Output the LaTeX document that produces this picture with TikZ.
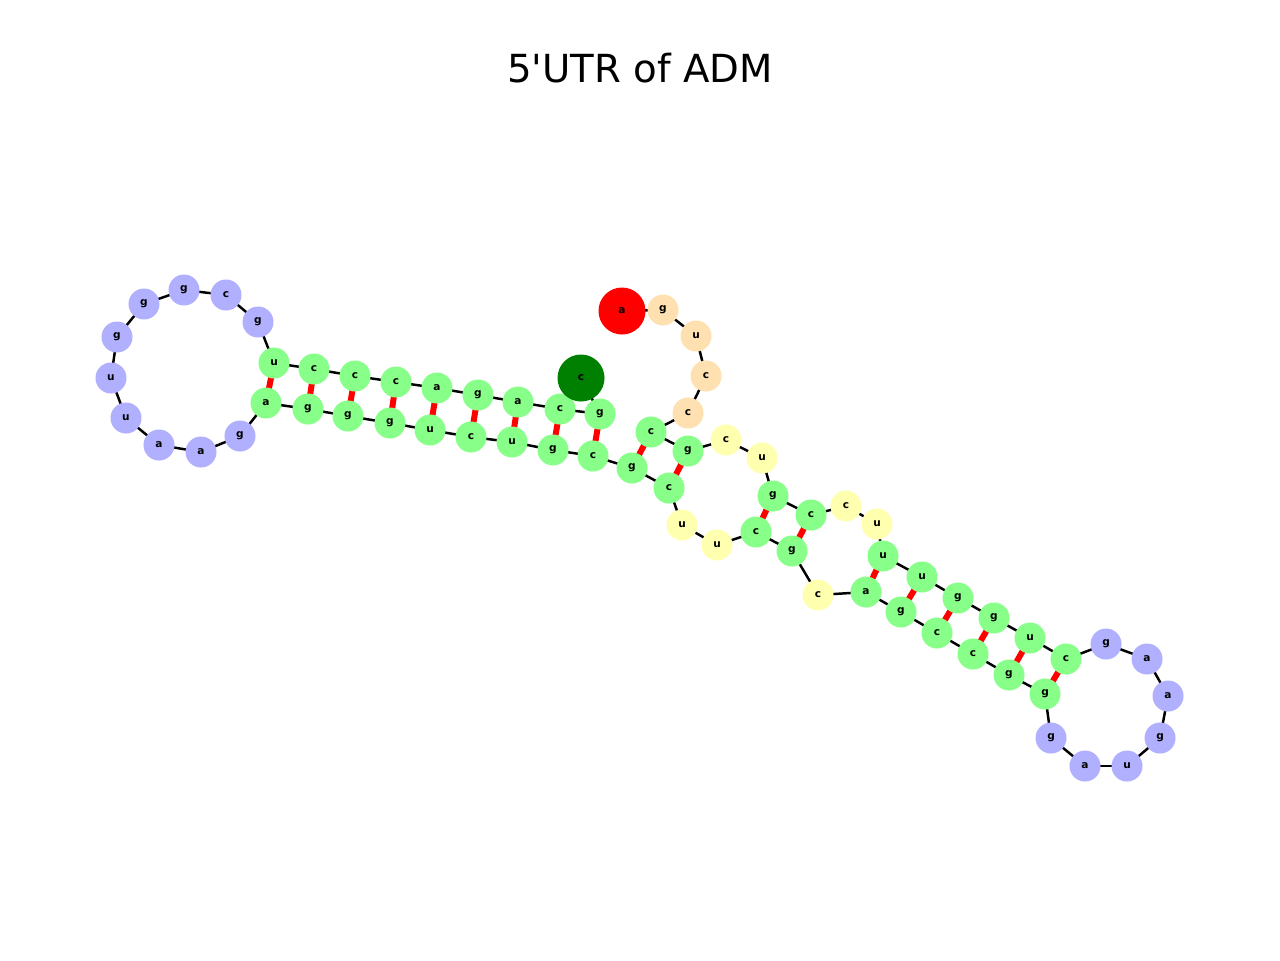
\documentclass[tikz,border=0pt]{standalone}
\usepackage{fontspec}
\setmainfont{DejaVu Sans}
\newfontfamily\titlefont{DejaVu Sans}
\definecolor{cgreen}{RGB}{136,255,136}
\definecolor{cblue}{RGB}{176,176,255}
\definecolor{cwheat}{RGB}{255,224,176}
\definecolor{cyellow}{RGB}{255,255,176}
\definecolor{cdark}{RGB}{0,128,0}
\begin{document}
\begin{tikzpicture}[x=0.01cm, y=-0.01cm]
    \tikzset{
        base/.style={circle, inner sep=0pt, minimum size=0.31cm, font=\fontsize{3}{3}\selectfont\bfseries},
        ngreen/.style={base, fill=cgreen},
        nblue/.style={base, fill=cblue},
        nwheat/.style={base, fill=cwheat},
        nyellow/.style={base, fill=cyellow},
        nred/.style={base, fill=red, minimum size=0.47cm},
        ndark/.style={base, fill=cdark, minimum size=0.47cm},
        chain/.style={line width=0.7pt, black},
        bond/.style={line width=1.7pt, red}
    }
    \useasboundingbox (0,0) rectangle (1280,960);

    \node[font=\titlefont\fontsize{11}{13}\selectfont] (title) at (640,68) {5'UTR of ADM};

    % bases
    \foreach \i/\x/\y/\b/\s in {
        1/622/311/a/nred, 2/663/310/g/nwheat, 3/696/336/u/nwheat, 4/706/376/c/nwheat,
        5/688/413/c/nwheat, 6/651/432/c/ngreen, 7/688/451/g/ngreen, 8/726/440/c/nyellow,
        9/762/458/u/nyellow, 10/773/496/g/ngreen, 11/811/515/c/ngreen, 12/846/506/c/nyellow,
        13/877/524/u/nyellow, 14/883/556/u/ngreen, 15/922/577/u/ngreen, 16/958/598/g/ngreen,
        17/994/618/g/ngreen, 18/1030/638/u/ngreen, 19/1066/659/c/ngreen, 20/1106/644/g/nblue,
        21/1147/659/a/nblue, 22/1168/696/a/nblue, 23/1160/738/g/nblue, 24/1127/766/u/nblue,
        25/1085/766/a/nblue, 26/1051/738/g/nblue, 27/1045/694/g/ngreen, 28/1009/675/g/ngreen,
        29/973/654/c/ngreen, 30/937/633/c/ngreen, 31/901/612/g/ngreen, 32/866/592/a/ngreen,
        33/818/595/c/nyellow, 34/792/551/g/ngreen, 35/756/532/c/ngreen, 36/717/545/u/nyellow,
        37/682/525/u/nyellow, 38/669/488/c/ngreen, 39/632/468/g/ngreen, 40/593/456/c/ngreen,
        41/553/450/g/ngreen, 42/512/442/u/ngreen, 43/471/437/c/ngreen, 44/430/430/u/ngreen,
        45/390/423/g/ngreen, 46/348/416/g/ngreen, 47/308/409/g/ngreen, 48/266/403/a/ngreen,
        49/240/436/g/nblue, 50/201/452/a/nblue, 51/159/445/a/nblue, 52/126/418/u/nblue,
        53/111/378/u/nblue, 54/117/337/g/nblue, 55/144/304/g/nblue, 56/184/290/g/nblue,
        57/226/295/c/nblue, 58/258/322/g/nblue, 59/274/363/u/ngreen, 60/314/369/c/ngreen,
        61/355/376/c/ngreen, 62/396/382/c/ngreen, 63/437/388/a/ngreen, 64/478/395/g/ngreen,
        65/518/402/a/ngreen, 66/560/409/c/ngreen, 67/600/414/g/ngreen, 68/581/378/c/ndark} {
        \coordinate (p-\i) at (\x,\y);
    }

    % backbone and pairs below the bases
    \foreach \i [evaluate=\i as \j using int(\i+1)] in {1,...,67} {
        \draw[chain] (p-\i) -- (p-\j);
    }
    \foreach \a/\b in {59/48, 60/47, 61/46, 62/45, 63/44, 64/43, 65/42, 66/41, 67/40,
        6/39, 7/38, 10/35, 11/34, 14/32, 15/31, 16/30, 17/29, 18/28, 19/27} {
        \draw[bond] (p-\a) -- (p-\b);
    }

    \foreach \i/\x/\y/\b/\s in {
        1/622/311/a/nred, 2/663/310/g/nwheat, 3/696/336/u/nwheat, 4/706/376/c/nwheat,
        5/688/413/c/nwheat, 6/651/432/c/ngreen, 7/688/451/g/ngreen, 8/726/440/c/nyellow,
        9/762/458/u/nyellow, 10/773/496/g/ngreen, 11/811/515/c/ngreen, 12/846/506/c/nyellow,
        13/877/524/u/nyellow, 14/883/556/u/ngreen, 15/922/577/u/ngreen, 16/958/598/g/ngreen,
        17/994/618/g/ngreen, 18/1030/638/u/ngreen, 19/1066/659/c/ngreen, 20/1106/644/g/nblue,
        21/1147/659/a/nblue, 22/1168/696/a/nblue, 23/1160/738/g/nblue, 24/1127/766/u/nblue,
        25/1085/766/a/nblue, 26/1051/738/g/nblue, 27/1045/694/g/ngreen, 28/1009/675/g/ngreen,
        29/973/654/c/ngreen, 30/937/633/c/ngreen, 31/901/612/g/ngreen, 32/866/592/a/ngreen,
        33/818/595/c/nyellow, 34/792/551/g/ngreen, 35/756/532/c/ngreen, 36/717/545/u/nyellow,
        37/682/525/u/nyellow, 38/669/488/c/ngreen, 39/632/468/g/ngreen, 40/593/456/c/ngreen,
        41/553/450/g/ngreen, 42/512/442/u/ngreen, 43/471/437/c/ngreen, 44/430/430/u/ngreen,
        45/390/423/g/ngreen, 46/348/416/g/ngreen, 47/308/409/g/ngreen, 48/266/403/a/ngreen,
        49/240/436/g/nblue, 50/201/452/a/nblue, 51/159/445/a/nblue, 52/126/418/u/nblue,
        53/111/378/u/nblue, 54/117/337/g/nblue, 55/144/304/g/nblue, 56/184/290/g/nblue,
        57/226/295/c/nblue, 58/258/322/g/nblue, 59/274/363/u/ngreen, 60/314/369/c/ngreen,
        61/355/376/c/ngreen, 62/396/382/c/ngreen, 63/437/388/a/ngreen, 64/478/395/g/ngreen,
        65/518/402/a/ngreen, 66/560/409/c/ngreen, 67/600/414/g/ngreen, 68/581/378/c/ndark} {
        \node[\s] (n-\i) at (p-\i) {\b};
    }
\end{tikzpicture}
\end{document}
